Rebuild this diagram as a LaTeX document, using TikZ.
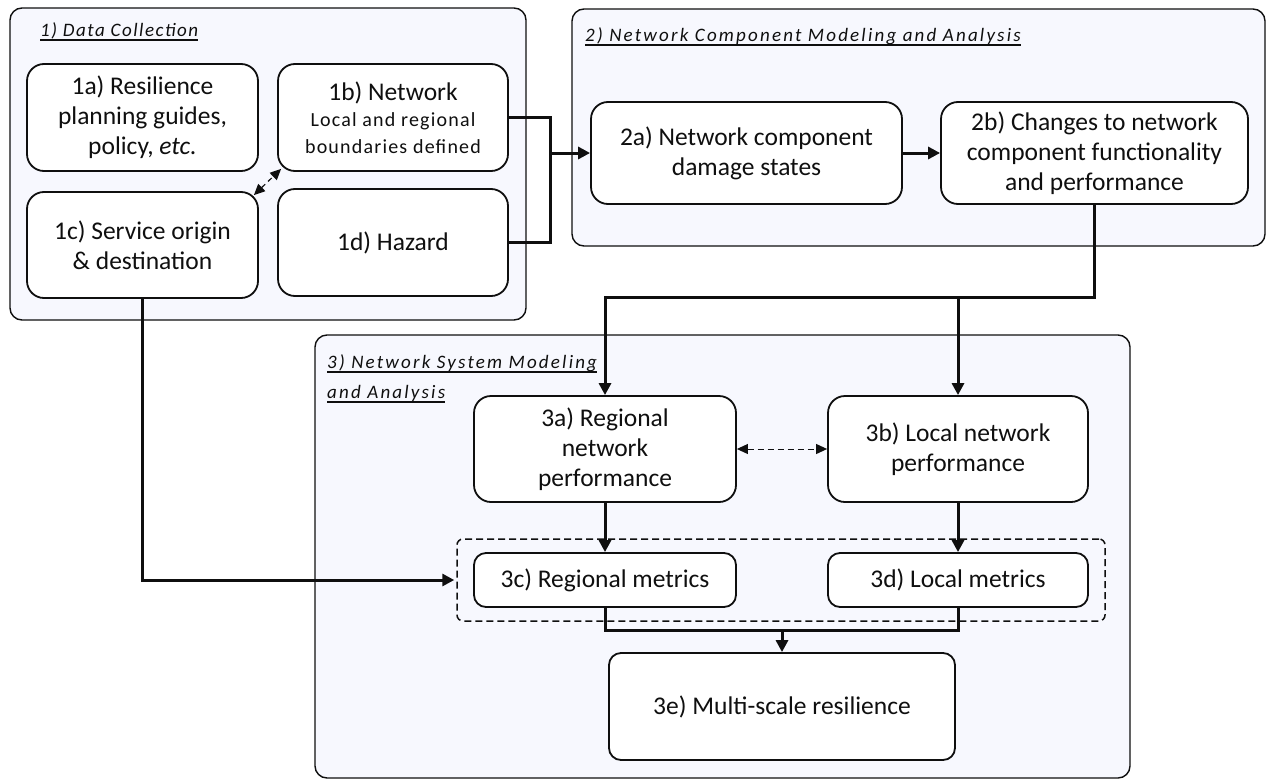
\documentclass[tikz,border=0pt]{standalone}
\usepackage{fontspec}
\setmainfont{Carlito}
\usetikzlibrary{arrows.meta,calc}
\definecolor{panelbg}{RGB}{247,248,254}
\definecolor{ink}{RGB}{15,15,15}
\newcommand{\subtext}{\fontsize{20}{26}\selectfont\addfontfeatures{LetterSpace=6}}
\begin{document}
\begin{tikzpicture}[x=1pt,y=-1pt,
  panel/.style={draw=ink, line width=1.4pt, rounded corners=12pt, fill=panelbg, inner sep=0pt},
  ttl/.style={anchor=base west, inner sep=0pt, text=ink,
    font=\fontsize{19}{22}\selectfont\itshape\addfontfeatures{LetterSpace=8}},
  wide/.style={font=\fontsize{19}{22}\selectfont\itshape\addfontfeatures{LetterSpace=11.5}},
  uline/.style={draw=ink, line width=1.8pt},
  stepbox/.style={draw=ink, line width=1.8pt, rounded corners=17pt, fill=white,
    align=center, inner sep=0pt, text=ink, font=\fontsize{25.5}{30}\selectfont},
  wire/.style={draw=ink, line width=3pt},
  flow/.style={wire, -{Triangle[length=12pt,width=12pt]}},
  link/.style={draw=ink, line width=1.2pt, dash pattern=on 5pt off 4pt,
    {Triangle[length=11pt,width=10pt]}-{Triangle[length=11pt,width=10pt]}}
]
\useasboundingbox (0,0) rectangle (1268,779);

% panels
\node[panel, minimum width=516pt, minimum height=312pt] (g1) at (268,164) {};
\node[panel, minimum width=693pt, minimum height=237pt] (g2) at (918.5,127.5) {};
\node[panel, minimum width=815pt, minimum height=443pt] (g3) at (722.5,556.5) {};

% panel titles, underlined
\node[ttl] (t1) at (40,36) {1) Data Collection};
\node[ttl, wide] (t2) at (585,41) {2) Network Component Modeling and Analysis};
\node[ttl, wide] (t3a) at (327,368) {3) Network System Modeling};
\node[ttl, wide] (t3b) at (327,398) {and Analysis};
\foreach \t in {t1,t2,t3a,t3b}
  \draw[uline] ($(\t.base west)+(0,4)$) -- ($(\t.base east)+(0,4)$);

% stage 1
\node[stepbox, minimum width=231pt, minimum height=107pt] (n1a) at (142.5,117.5)
  {1a) Resilience\\planning guides,\\policy, \textit{etc.}};
\node[stepbox, minimum width=230pt, minimum height=107pt] (n1b) at (393,117.5)
  {1b) Network\\[-4pt]{\subtext Local and regional}\\[-3pt]{\subtext boundaries defined}};
\node[stepbox, minimum width=231pt, minimum height=106pt] (n1c) at (142.5,245)
  {1c) Service origin\\\& destination};
\node[stepbox, minimum width=230pt, minimum height=107pt] (n1d) at (393,242.5)
  {1d) Hazard};

% stage 2
\node[stepbox, minimum width=311pt, minimum height=102pt] (n2a) at (746.5,153)
  {2a) Network component\\damage states};
\node[stepbox, minimum width=307pt, minimum height=102pt] (n2b) at (1094.5,153)
  {2b) Changes to network\\component functionality\\and performance};

% stage 3
\node[draw=ink, line width=1.5pt, dash pattern=on 7pt off 4pt, rounded corners=6pt,
  minimum width=648pt, minimum height=82pt, inner sep=0pt] (grp) at (781,580) {};
\node[stepbox, minimum width=262pt, minimum height=106pt] (n3a) at (605,449)
  {3a) Regional\\network\\performance};
\node[stepbox, minimum width=260pt, minimum height=106pt] (n3b) at (958,449)
  {3b) Local network\\performance};
\node[stepbox, rounded corners=12pt, minimum width=262pt, minimum height=54pt] (n3c) at (605,580)
  {3c) Regional metrics};
\node[stepbox, rounded corners=12pt, minimum width=260pt, minimum height=54pt] (n3d) at (958,580)
  {3d) Local metrics};
\node[stepbox, rounded corners=12pt, minimum width=346pt, minimum height=107pt] (n3e) at (782,706.5)
  {3e) Multi-scale resilience};

% connectors
\coordinate (join) at (550,153);
\draw[wire] (n1b.east) -| (join |- n1d.east) -- (n1d.east);
\draw[flow] (join) -- (n2a.west);
\draw[flow] (n2a.east) -- (n2b.west);

\coordinate (bus) at (0,297);
\draw[flow] (n2b.south) |- (n3a.north |- bus) -- (n3a.north);
\draw[flow] (n3b.north |- bus) -- (n3b.north);

\draw[link] ($(n1c.north east)+(-5,4)$) -- ($(n1b.south west)+(4,-3)$);
\draw[link, line width=1pt, dash pattern=on 6pt off 4pt] (n3a.east) -- (n3b.west);

\draw[flow] (n3a.south) -- (n3c.north);
\draw[flow] (n3b.south) -- (n3d.north);

\coordinate (merge) at (782,630);
\draw[wire] (n3c.south) |- (merge) -| (n3d.south);
\draw[flow] (merge) -- (n3e.north);

\draw[flow] (n1c.south) |- ($(grp.west)+(-2,0)$);
\end{tikzpicture}
\end{document}
